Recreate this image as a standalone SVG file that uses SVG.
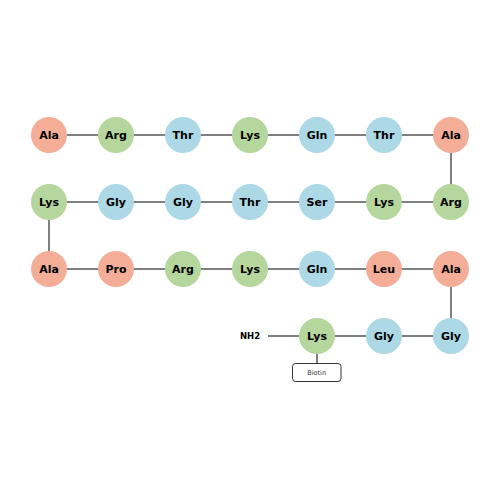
<svg xmlns="http://www.w3.org/2000/svg" width="500" height="500" viewBox="0 0 500 500">
<style>
.s{fill:#F4AE98}.g{fill:#B5D69C}.b{fill:#ADD8E6}
.lbl{font-family:"DejaVu Sans",sans-serif;font-size:11px;font-weight:bold;fill:#000;text-anchor:middle;dominant-baseline:central}
.sm{font-family:"DejaVu Sans",sans-serif;font-size:6.5px;fill:#333;text-anchor:middle;dominant-baseline:central}
#edges line{stroke:#555;stroke-width:1.5}
</style>
<rect width="500" height="500" fill="#fff"/>
<g id="edges">
<line x1="49" y1="135" x2="451" y2="135"/>
<line x1="451" y1="135" x2="451" y2="202"/>
<line x1="49" y1="202" x2="451" y2="202"/>
<line x1="49" y1="202" x2="49" y2="269"/>
<line x1="49" y1="269" x2="451" y2="269"/>
<line x1="451" y1="269" x2="451" y2="336"/>
<line x1="268" y1="336" x2="451" y2="336"/>
<line x1="317" y1="336" x2="317" y2="363.5"/>
</g>
<g id="r1">
<g id="n1"><circle class="s" cx="49" cy="135" r="18"/><text class="lbl" x="49" y="135">Ala</text></g>
<g id="n2"><circle class="g" cx="116" cy="135" r="18"/><text class="lbl" x="116" y="135">Arg</text></g>
<g id="n3"><circle class="b" cx="183" cy="135" r="18"/><text class="lbl" x="183" y="135">Thr</text></g>
<g id="n4"><circle class="g" cx="250" cy="135" r="18"/><text class="lbl" x="250" y="135">Lys</text></g>
<g id="n5"><circle class="b" cx="317" cy="135" r="18"/><text class="lbl" x="317" y="135">Gln</text></g>
<g id="n6"><circle class="b" cx="384" cy="135" r="18"/><text class="lbl" x="384" y="135">Thr</text></g>
<g id="n7"><circle class="s" cx="451" cy="135" r="18"/><text class="lbl" x="451" y="135">Ala</text></g>
</g>
<g id="r2">
<g id="n8"><circle class="g" cx="49" cy="202" r="18"/><text class="lbl" x="49" y="202">Lys</text></g>
<g id="n9"><circle class="b" cx="116" cy="202" r="18"/><text class="lbl" x="116" y="202">Gly</text></g>
<g id="n10"><circle class="b" cx="183" cy="202" r="18"/><text class="lbl" x="183" y="202">Gly</text></g>
<g id="n11"><circle class="b" cx="250" cy="202" r="18"/><text class="lbl" x="250" y="202">Thr</text></g>
<g id="n12"><circle class="b" cx="317" cy="202" r="18"/><text class="lbl" x="317" y="202">Ser</text></g>
<g id="n13"><circle class="g" cx="384" cy="202" r="18"/><text class="lbl" x="384" y="202">Lys</text></g>
<g id="n14"><circle class="g" cx="451" cy="202" r="18"/><text class="lbl" x="451" y="202">Arg</text></g>
</g>
<g id="r3">
<g id="n15"><circle class="s" cx="49" cy="269" r="18"/><text class="lbl" x="49" y="269">Ala</text></g>
<g id="n16"><circle class="s" cx="116" cy="269" r="18"/><text class="lbl" x="116" y="269">Pro</text></g>
<g id="n17"><circle class="g" cx="183" cy="269" r="18"/><text class="lbl" x="183" y="269">Arg</text></g>
<g id="n18"><circle class="g" cx="250" cy="269" r="18"/><text class="lbl" x="250" y="269">Lys</text></g>
<g id="n19"><circle class="b" cx="317" cy="269" r="18"/><text class="lbl" x="317" y="269">Gln</text></g>
<g id="n20"><circle class="s" cx="384" cy="269" r="18"/><text class="lbl" x="384" y="269">Leu</text></g>
<g id="n21"><circle class="s" cx="451" cy="269" r="18"/><text class="lbl" x="451" y="269">Ala</text></g>
</g>
<g id="r4">
<g id="nh2"><text class="lbl" x="250" y="336" style="font-size:8.5px">NH2</text></g>
<g id="n22"><circle class="g" cx="317" cy="336" r="18"/><text class="lbl" x="317" y="336">Lys</text></g>
<g id="n23"><circle class="b" cx="384" cy="336" r="18"/><text class="lbl" x="384" y="336">Gly</text></g>
<g id="n24"><circle class="b" cx="451" cy="336" r="18"/><text class="lbl" x="451" y="336">Gly</text></g>
<g id="biotin"><rect x="292.5" y="363.5" width="48.5" height="18" rx="3" fill="#fff" stroke="#333" stroke-width="1"/><text class="sm" x="316.7" y="372.5">Biotin</text></g>
</g>
</svg>
